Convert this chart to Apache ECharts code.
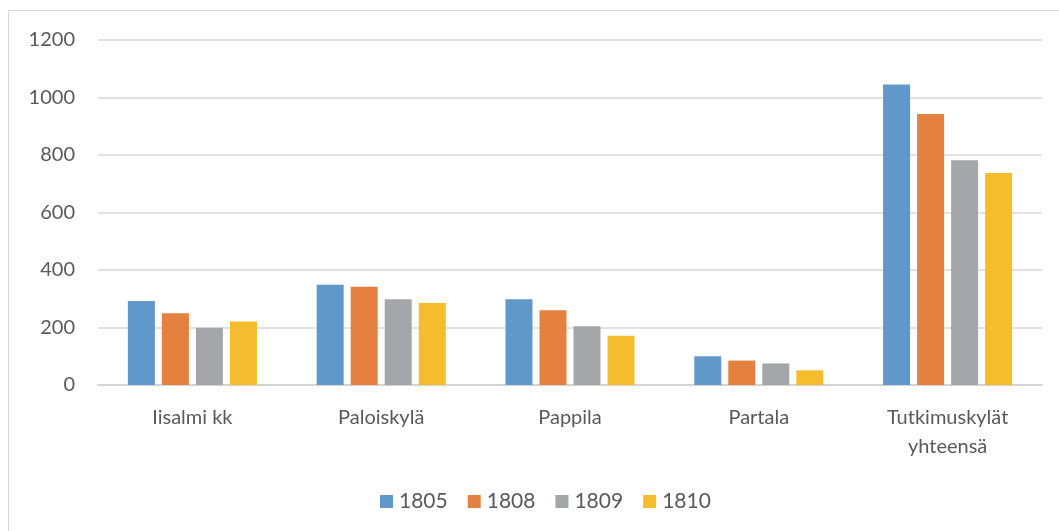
<!DOCTYPE html>
<html>
<head>
<meta charset="utf-8">
<script src="https://cdn.jsdelivr.net/npm/echarts@6/dist/echarts.min.js"></script>
<style>
  html, body { margin: 0; padding: 0; background: #fff; overflow: hidden; }
  #frame { position: absolute; left: 8px; top: 10px; width: 1100px; height: 600px;
           border: 1.5px solid #d9d9d9; box-sizing: border-box; }
  #chart { position: absolute; left: 0; top: 0; width: 1059px; height: 531px; }
</style>
</head>
<body>
<div id="frame"></div>
<div id="chart"></div>
<script>
const categories = ['Iisalmi kk', 'Paloiskylä', 'Pappila', 'Partala', 'Tutkimuskylät\nyhteensä']
const years = ['1805', '1808', '1809', '1810']
const values1805 = [292, 349, 298, 100, 1045]
const values1808 = [250, 342, 260, 85, 943]
const values1809 = [199, 298, 204, 75, 782]
const values1810 = [221, 285, 171, 51, 737]
const colors = ['#6198ca', '#e58140', '#a5a6a9', '#f5bd2d']

const chart = echarts.init(document.getElementById('chart'))
const font = 'Lato, "Open Sans", sans-serif'
const textColor = '#595959'

const seriesData = [values1805, values1808, values1809, values1810]

chart.setOption({
  animation: false,
  textStyle: { fontFamily: font },
  grid: { left: 98, right: 17, top: 40, bottom: 146 },
  legend: {
    data: years,
    top: 486,
    left: 375,
    itemWidth: 13,
    itemHeight: 13,
    itemGap: 20,
    icon: 'rect',
    textStyle: { color: textColor, fontSize: 21, fontFamily: font, padding: [0, 0, 0, 1] },
  },
  xAxis: {
    type: 'category',
    data: categories,
    axisTick: { show: false },
    axisLine: { lineStyle: { color: '#d4d4d4', width: 2 } },
    axisLabel: {
      interval: 0,
      color: textColor,
      fontSize: 20,
      lineHeight: 29,
      margin: 18,
    },
  },
  yAxis: {
    type: 'value',
    min: 0,
    max: 1200,
    interval: 200,
    axisLine: { show: false },
    axisTick: { show: false },
    axisLabel: { color: textColor, fontSize: 20, margin: 23, formatter: v => String(v) },
    splitLine: { lineStyle: { color: '#d9d9d9', width: 1.5 } },
  },
  series: years.map((y, i) => ({
    name: y,
    type: 'bar',
    data: seriesData[i],
    barWidth: 27,
    barGap: '26%',
    itemStyle: { color: colors[i] },
  })),
})
</script>
</body>
</html>
